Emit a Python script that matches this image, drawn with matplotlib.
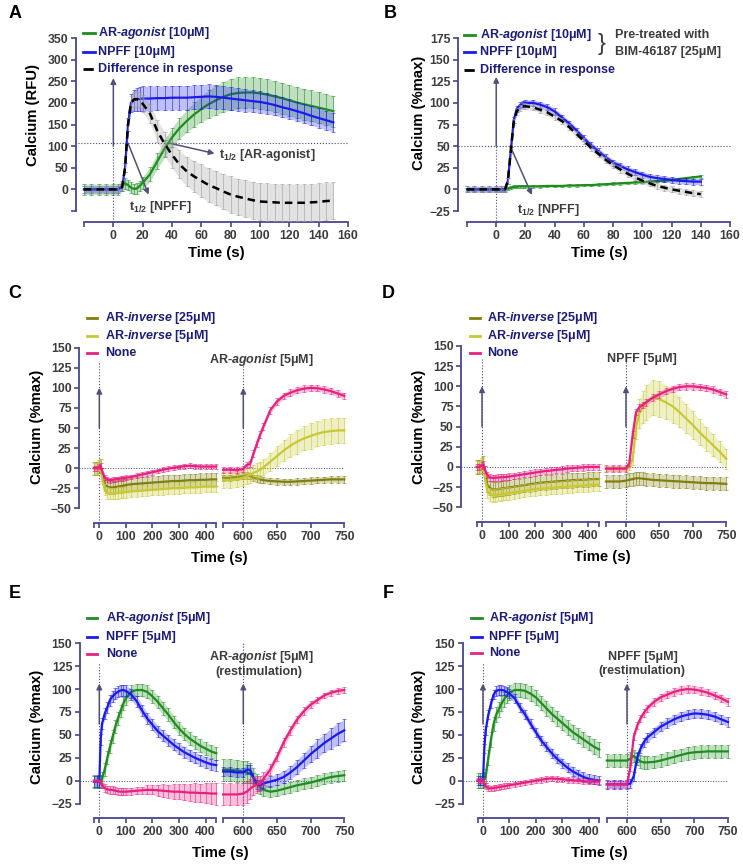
import numpy as np
import matplotlib.pyplot as plt
from matplotlib.lines import Line2D

plt.rcParams['font.family'] = ['Liberation Sans', 'DejaVu Sans']
plt.rcParams['font.weight'] = 'bold'
plt.rcParams['mathtext.fontset'] = 'custom'
plt.rcParams['mathtext.rm'] = 'Liberation Sans:bold'
plt.rcParams['mathtext.it'] = 'Liberation Sans:italic:bold'
plt.rcParams['mathtext.bf'] = 'Liberation Sans:bold'

W, H = 743, 865
AXC = '#45458f'    # axis colour
TXT = '#3c3c3c'    # tick labels / notes
LEG = '#1c1c7a'    # legend text
ARR = '#50507a'    # arrows
GREEN = '#1f8c1f'
BLUE = '#1a1aee'
PINK = '#e8207f'
OLIVE = '#7f7f10'
YELLOW = '#c8c832'

# ---------------- data: panels A and B (time in s) ----------------
t_ab = [-20, -15, -10, -5, 0, 3, 6, 8, 10, 12, 14, 16, 18, 20,
        25, 30, 35, 40, 45, 50, 55, 60, 65, 70, 75, 80, 85, 90, 95, 100,
        105, 110, 115, 120, 125, 130, 135, 140, 145, 150]

a_green = [0, 0, 0, 0, 0, 0, 8, 14, 10, 4, 1, 2, 8, 15,
           35, 65, 95, 120, 141, 158, 173, 186, 197, 206, 214, 220, 223, 224, 224, 222,
           219, 215, 211, 206, 201, 197, 193, 189, 185, 181]
a_green_err = [12, 12, 12, 12, 12, 12, 12, 12, 12, 12, 12, 12, 12, 14,
               16, 18, 20, 22, 24, 26, 28, 30, 32, 34, 35, 36, 36, 36, 36, 36,
               36, 36, 36, 36, 36, 36, 36, 36, 36, 36]
a_blue = [0, 0, 0, 0, 0, 0, 5, 50, 150, 200, 206, 208, 209, 210,
          210, 211, 211, 212, 212, 212, 213, 214, 215, 214, 212, 210, 208, 206, 204, 202,
          199, 195, 190, 186, 181, 176, 170, 165, 160, 155]
a_blue_err = [8, 8, 8, 8, 8, 8, 8, 10, 15, 20, 24, 26, 27, 28,
              28, 28, 28, 28, 28, 28, 28, 28, 28, 28, 27, 27, 26, 26, 25, 25,
              24, 24, 23, 23, 22, 22, 22, 22, 22, 22]
a_diff = [0, 0, 0, 0, 0, 0, 5, 50, 150, 200, 208, 209, 206, 198,
          175, 135, 105, 80, 58, 42, 30, 20, 10, 3, -5, -12, -17, -21, -25, -28,
          -29, -30, -31, -31, -31, -31, -30, -29, -27, -26]
a_diff_err = [8, 8, 8, 8, 8, 8, 8, 10, 14, 16, 17, 18, 19, 20,
              22, 25, 28, 30, 32, 34, 36, 38, 39, 40, 41, 42, 42, 43, 43, 43,
              43, 43, 43, 43, 43, 43, 43, 43, 43, 43]

t_b = t_ab[:-2]
b_green = [0, 0, 0, 0, 0, 0, 0, 1, 2, 3, 3, 3.5, 3.5, 3.5,
           3.5, 3.5, 4, 4, 4, 4.5, 4.5, 5, 5, 5.5, 6, 6.5, 7, 7.5, 8, 8.5,
           9, 9.5, 10, 11, 12, 13, 14, 15]
b_green_err = 1.5
b_blue = [0, 0, 0, 0, 0, 0, 0, 10, 45, 80, 93, 97, 99, 100,
          100, 98, 95, 90, 83, 76, 68, 59, 51, 44, 37, 31, 27, 23, 20, 17,
          14.5, 13, 12, 11, 10, 9.5, 9, 9]
b_blue_err = 3.5
b_diff = [0, 0, 0, 0, 0, 0, 0, 10, 45, 78, 90, 94, 96, 96,
          95, 92, 89, 84, 79, 72, 64, 56, 48, 41, 34, 28, 23, 18, 14, 10,
          7, 4, 2, 0, -1.5, -3, -4.5, -5.5]
b_diff_err = 3.5

# ---------------- data: panels C-F (two time segments) ----------------
t_left = [-20, -10, 0, 5, 10, 20, 30, 40, 50, 60, 70, 80, 90, 100,
          120, 140, 160, 180, 200, 220, 240, 260, 280, 300, 320, 340, 360, 380, 400, 420, 440]
t_right = [570, 580, 590, 600, 605, 610, 615, 620, 625, 630,
           640, 650, 660, 670, 680, 690, 700, 710, 720, 730, 740, 750]

# C: AR-agonist stimulation after inverse agonist
c_inv25_l = [0, 0, 2, 4, -8, -20, -23, -24, -24, -23.5, -23, -22.5, -22, -21,
             -20, -19.5, -19, -18.5, -18, -17.5, -17, -16.5, -16, -16, -15.5, -15, -15, -14.5, -14.5, -14, -14]
c_inv25_r = [-12, -12, -11, -10, -9, -10, -12, -13, -14, -15,
             -16, -16.5, -17, -17, -16.5, -16, -15.5, -15, -14.5, -14, -14, -14]
c_inv5_l = [0, 0, 3, 4, -12, -27, -31, -32, -32, -31.5, -31, -30.5, -30, -30,
            -29, -28.5, -28, -27.5, -27, -26.5, -26, -25.5, -25, -25, -24.5, -24, -24, -23.5, -23, -23, -23]
c_inv5_r = [-15, -15, -14, -12, -10, -8, -6, -4, -2, 1,
            8, 15, 22, 28, 33, 37, 40, 43, 45, 46, 47, 47]
c_none_l = [0, 0, 2, 3, -3, -12, -14, -15, -14.5, -14, -13.5, -13, -12.5, -12,
            -11, -9.5, -8, -6.5, -5, -3.5, -2, -0.5, 0.5, 1.5, 2.5, 3, 2.5, 2, 2, 2, 2]
c_none_r = [-2, -2, -2.5, -1, 4, 5, 18, 30, 42, 52,
            72, 83, 90, 94, 97, 99, 100, 99.5, 98, 96, 93, 90]
c_inv25_err = (8, 4)
c_inv5_err_l = 7
c_inv5_err_r = [10, 10, 10, 10, 10, 10, 10, 10, 10, 10, 11, 12, 13, 14, 15, 15, 16, 16, 16, 16, 16, 16]
c_none_err = (3, 4)

# D: NPFF stimulation after inverse agonist
d_inv25_l = [0, 0, 2, 4, -8, -22, -26, -28, -28, -27.5, -27, -26.5, -26, -25.5,
             -24.5, -23.5, -22.5, -21.5, -20.5, -19.5, -19, -18.5, -18, -17.5, -17, -16.5, -16, -16, -15.5, -15, -15]
d_inv25_r = [-18, -18, -18, -17, -16, -15, -14, -14, -14.5, -15,
             -16, -16.5, -17, -17.5, -18, -18.5, -19, -19.5, -20, -20, -20.5, -21]
d_inv5_l = [0, 0, 3, 4, -12, -30, -34, -35, -35, -34.5, -34, -33.5, -33, -32.5,
            -31.5, -30.5, -29.5, -28.5, -27.5, -27, -26.5, -26, -25.5, -25, -24.5, -24, -23.5, -23, -22.5, -22, -22]
d_inv5_r = [-2, -2, -2, -2, -1, 10, 50, 66, 74, 80,
            86, 84, 80, 75, 68, 60, 52, 43, 35, 27, 19, 10]
d_none_l = [0, 0, 2, 3, -3, -10, -13, -13.5, -13.5, -13, -13, -12.5, -12.5, -12,
            -11, -10, -9, -8, -7, -6, -5, -4.5, -3.5, -3, -2, -1.5, -1, -0.5, 0, 0, 0]
d_none_r = [-2, -2, -2, -2, 5, 40, 68, 74, 77, 80,
            86, 90, 94, 97, 99, 100, 100, 99, 98, 96, 93, 90]
d_inv25_err = (9, 8)
d_inv5_err_l = 8
d_inv5_err_r = [3, 3, 3, 3, 3, 8, 15, 18, 20, 22, 22, 22, 21, 20, 19, 18, 17, 16, 15, 14, 13, 12]
d_none_err = (4, 4)

# E: restimulation with AR-agonist
e_ag_l = [-1, -1, -1, -1, 2, 12, 25, 37, 48, 59, 68, 76, 84, 90,
          97, 99, 99, 97, 92, 86, 79, 72, 64, 57, 51, 46, 42, 38, 35, 32, 30]
e_ag_r = [12, 12, 11, 10, 9, 8, 4, -2, -7, -10,
          -12, -11, -9, -7, -5, -3.5, -2, 0, 2, 4, 5, 6]
e_npff_l = [-1, -1, -1, 45, 62, 73, 80, 88, 92, 95, 97, 98.5, 99, 98,
            94, 87, 77, 68, 61, 54, 49, 44, 39, 35, 31, 28, 25, 22.5, 20, 18, 17]
e_npff_r = [10, 10, 9, 9, 12, 12, 3, -4, -5, -3,
            -1, 1, 4, 9, 15, 22, 29, 35, 41, 46, 51, 55]
e_none_l = [0, 0, 0, -2, -5, -8, -9.5, -10, -10, -11, -11.5, -12, -12, -12,
            -11.5, -11, -10.5, -10, -10, -10.5, -11, -11.5, -12, -12, -12.5, -13, -13, -13.5, -13.5, -14, -14]
e_none_r = [-15, -15, -15, -14, -12, -9, -6, -4, -3, 2,
            12, 26, 42, 55, 67, 76, 83, 88, 93, 96, 98, 99]
e_ag_err_l = 7
e_ag_err_r = [12, 12, 12, 12, 12, 11, 10, 9, 8, 7, 6, 6, 6, 6, 6, 6, 6, 6, 6, 6, 6, 6]
e_npff_err_l = 6
e_npff_err_r = [5, 5, 5, 5, 5, 5, 5, 5, 5, 5, 6, 6, 7, 7, 8, 8, 9, 10, 10, 11, 12, 12]
e_none_err_l = [1, 1, 1, 2, 3, 4, 4, 4, 4, 4, 4, 4, 4, 4,
                4, 4, 4, 5, 5, 6, 7, 7, 8, 8, 9, 9, 10, 10, 11, 11, 12]
e_none_err_r = [12, 12, 12, 12, 12, 11, 10, 9, 8, 7, 6, 5, 5, 5, 4, 4, 4, 3, 3, 3, 3, 3]

# F: restimulation with NPFF
f_ag_l = [0, 0, 0, 1, 5, 25, 45, 62, 72, 78, 84, 89, 93, 96,
          99, 99, 98, 95, 91, 85, 79, 73, 68, 63, 58, 53, 49, 45, 41, 37, 34]
f_ag_r = [22, 22, 22, 22, 24, 27, 24, 21, 20, 20,
          20.5, 22, 24, 26, 28, 30, 31, 31.5, 32, 32, 32, 32]
f_npff_l = [0, 0, 0, 35, 55, 72, 84, 94, 98, 99, 99, 98.5, 97, 95,
            90, 80, 72, 62, 53, 44, 37, 30, 24, 19, 14, 10, 7, 4, 2, 1, 0]
f_npff_r = [-4, -4, -4, -4, -3, 5, 25, 35, 42, 47,
            53, 59, 63, 67, 70, 72, 73.5, 73, 72, 70, 67, 64]
f_none_l = [0, 0, 0, -3, -6, -8, -8.5, -8, -7.5, -7, -6.5, -6, -5.5, -5,
            -4, -3, -2, -1, 0, 1, 2, 2.5, 2, 1.5, 1, 0.5, 0, -0.5, -1, -1, -1]
f_none_r = [-4, -4, -4, -4, 15, 48, 60, 68, 74, 79,
            86, 91, 94, 97, 99, 100, 99.5, 98, 96, 93, 90, 86]
f_ag_err = (8, 7)
f_npff_err = (5, 5)
f_none_err = (3, 4)

fig = plt.figure(figsize=(W / 100, H / 100), dpi=100)


def add_ax(x0, x1, y0, y1):
    return fig.add_axes([x0 / W, 1 - y1 / H, (x1 - x0) / W, (y1 - y0) / H])


def frame(ax, left_out=None, bottom_out=11):
    ax.patch.set_visible(False)
    ax.spines['top'].set_visible(False)
    ax.spines['right'].set_visible(False)
    ax.spines['bottom'].set_position(('outward', bottom_out * 0.72))
    ax.spines['bottom'].set_color(AXC)
    ax.spines['bottom'].set_linewidth(1.3)
    if left_out is None:
        ax.spines['left'].set_visible(False)
        ax.tick_params(axis='y', left=False, labelleft=False)
    else:
        ax.spines['left'].set_position(('outward', left_out * 0.72))
        ax.spines['left'].set_color(AXC)
        ax.spines['left'].set_linewidth(1.3)
    ax.tick_params(direction='out', length=3.5, width=1.2, color=AXC,
                   labelcolor=TXT, labelsize=8.8, pad=2)


def ftext(x, y, s, **kw):
    kw.setdefault('color', TXT)
    kw.setdefault('fontsize', 9)
    return fig.text(x / W, 1 - y / H, s, **kw)


def series(ax, t, v, e, color, ls='-', z=3):
    lo = np.array(v) - np.array(e)
    hi = np.array(v) + np.array(e)
    band = '#9a9a9a' if color == 'black' else color
    ax.fill_between(t, lo, hi, color=band, alpha=0.28, lw=0, zorder=z - 0.2, clip_on=False)
    ax.errorbar(t, v, yerr=e, fmt='none', ecolor=band, alpha=0.65,
                elinewidth=0.6, capsize=1.6, capthick=0.6, zorder=z, clip_on=False)
    line = ax.plot(t, v, color=color, lw=1.6, ls=ls, zorder=z + 0.5, clip_on=False)[0]
    if ls == '--':
        line.set_dashes((3, 2))
        line.set_linewidth(1.8)


def stim(ax, x, ybot, ytop, a0, a1):
    ax.plot([x, x], [ybot, ytop], ls=':', color=AXC, lw=0.8, clip_on=False, zorder=1)
    ax.annotate('', xy=(x, a1), xytext=(x, a0),
                arrowprops=dict(arrowstyle='-|>', color=ARR, lw=1.1,
                                mutation_scale=8, shrinkA=0, shrinkB=0))


def pointer(ax, start, tip):
    ax.annotate('', xy=tip, xytext=start,
                arrowprops=dict(arrowstyle='-|>', color=ARR, lw=1.1,
                                mutation_scale=8, shrinkA=0, shrinkB=0))


def legend(ys, hx0, hx1, tx, labels, colors, styles=None):
    styles = styles or ['-'] * len(labels)
    for y, lab, c, ls in zip(ys, labels, colors, styles):
        fig.add_artist(Line2D([hx0 / W, hx1 / W], [1 - y / H, 1 - y / H],
                              color=c, lw=2, ls=ls))
        ftext(tx, y, lab, color=LEG, va='center', ha='left')


def ylab(x, y, s):
    ftext(x, y, s, color='black', fontsize=10.7, rotation=90, ha='center', va='center')


def xlab(x, y, s):
    ftext(x, y, s, color='black', fontsize=10.7, ha='center', va='center')


def letter(x, y, s):
    ftext(x, y, s, color='black', fontsize=13, ha='center', va='center')


# ================= Panel A =================
ax = add_ax(84, 348, 38, 211)
frame(ax, left_out=8, bottom_out=11)
ax.set_xlim(-20, 160)
ax.set_ylim(-50, 350)
ax.set_xticks([-20] + list(range(0, 161, 20)))
ax.set_xticklabels([''] + [str(v) for v in range(0, 161, 20)])
ax.set_yticks(range(-50, 351, 50))
ax.set_yticklabels([''] + [str(v) for v in range(0, 351, 50)])
ax.plot([-26, 160], [107, 107], ls=':', color=AXC, lw=0.8, clip_on=False, zorder=1)
stim(ax, 0, -75, 100, 100, 257)
series(ax, t_ab, a_green, a_green_err, GREEN)
series(ax, t_ab, a_blue, a_blue_err, BLUE, z=4)
series(ax, t_ab, a_diff, a_diff_err, 'black', ls='--', z=5)
pointer(ax, (10, 107), (24, -12))
pointer(ax, (38, 107), (69, 83))
ax.text(11, -41, r'$\mathrm{t}_{1/2}$ [NPFF]', color=TXT, fontsize=9, va='center')
ax.text(72, 79, r'$\mathrm{t}_{1/2}$ [AR-agonist]', color=TXT, fontsize=9, va='center')
legend([33, 52, 69], 83, 95, 98,
       ['AR-$\\mathit{agonist}$ [10μM]', 'NPFF [10μM]', 'Difference in response'],
       [GREEN, BLUE, 'black'], ['-', '-', '--'])
ylab(33, 115, 'Calcium (RFU)')
xlab(216, 253, 'Time (s)')
letter(15, 14, 'A')

# ================= Panel B =================
ax = add_ax(467, 730, 38, 211)
frame(ax, left_out=9, bottom_out=11)
ax.set_xlim(-20, 160)
ax.set_ylim(-25, 175)
ax.set_xticks([-20] + list(range(0, 161, 20)))
ax.set_xticklabels([''] + [str(v) for v in range(0, 161, 20)])
ax.set_yticks(range(-25, 176, 25))
ax.plot([-26, 160], [50, 50], ls=':', color=AXC, lw=0.8, clip_on=False, zorder=1)
stim(ax, 0, -37, 50, 50, 130)
series(ax, t_b, b_green, b_green_err, GREEN)
series(ax, t_b, b_blue, b_blue_err, BLUE, z=4)
series(ax, t_b, b_diff, b_diff_err, 'black', ls='--', z=5)
pointer(ax, (9.6, 50), (24.4, -6.5))
ax.text(14, -24, r'$\mathrm{t}_{1/2}$ [NPFF]', color=TXT, fontsize=9, va='center')
legend([35, 52, 70], 464, 475, 480,
       ['AR-$\\mathit{agonist}$ [10μM]', 'NPFF [10μM]', 'Difference in response'],
       [GREEN, BLUE, 'black'], ['-', '-', '--'])
ftext(602, 44, '}', fontsize=17, va='center', ha='center', fontweight='normal')
ftext(615, 35, 'Pre-treated with', va='center')
ftext(615, 52, 'BIM-46187 [25μM]', va='center')
ylab(419, 113, 'Calcium (%max)')
xlab(599, 253, 'Time (s)')
letter(390, 14, 'B')


# ================= broken-axis panels =================
def broken(lx0, lx1, rx0, rx1, y0, y1, spine_x, xaxis_y, ylim, yticks):
    axl = add_ax(lx0, lx1, y0, y1)
    axr = add_ax(rx0, rx1, y0, y1)
    out = xaxis_y - y1
    frame(axl, left_out=lx0 - spine_x, bottom_out=out)
    frame(axr, left_out=None, bottom_out=out)
    axl.set_xlim(-20, 440)
    axr.set_xlim(570, 750)
    for a in (axl, axr):
        a.set_ylim(*ylim)
    axl.set_yticks(yticks)
    axl.set_xticks([-20, 0, 100, 200, 300, 400, 440])
    axl.set_xticklabels(['', '0', '100', '200', '300', '400', ''])
    axr.set_xticks([570, 600, 650, 700, 750])
    axr.set_xticklabels(['', '600', '650', '700', '750'])
    axl.plot([-20 - (lx0 - spine_x) / (lx1 - lx0) * 460, 440], [0, 0], ls=':',
             color=AXC, lw=0.7, clip_on=False, zorder=1)
    axr.plot([570, 750], [0, 0], ls=':', color=AXC, lw=0.7, clip_on=False, zorder=1)
    return axl, axr


def pair(axl, axr, vl, vr, el, er, color, z=3):
    series(axl, t_left, vl, el, color, z=z)
    series(axr, t_right, vr, er, color, z=z)


# ---- C ----
axl, axr = broken(94, 216.3, 223.1, 344.3, 347.7, 508.3, 79.3, 523.3, (-50, 150), range(-50, 151, 25))
stim(axl, 0, -68, 132, 50, 100)
stim(axr, 600, -68, 137, 50, 100)
pair(axl, axr, c_inv25_l, c_inv25_r, c_inv25_err[0], c_inv25_err[1], OLIVE, z=3)
pair(axl, axr, c_inv5_l, c_inv5_r, c_inv5_err_l, c_inv5_err_r, YELLOW, z=4)
pair(axl, axr, c_none_l, c_none_r, c_none_err[0], c_none_err[1], PINK, z=5)
legend([318, 336, 353], 87, 97, 105,
       ['AR-$\\mathit{inverse}$ [25μM]', 'AR-$\\mathit{inverse}$ [5μM]', 'None'],
       [OLIVE, YELLOW, PINK])
ftext(261, 360, 'AR-$\\mathit{agonist}$ [5μM]', ha='center', va='center')
ylab(37, 427, 'Calcium (%max)')
xlab(219, 558, 'Time (s)')
letter(15, 294, 'C')

# ---- D ----
axl, axr = broken(476.7, 598.6, 605.9, 726.3, 346, 507.3, 461.3, 522.3, (-50, 150), range(-50, 151, 25))
stim(axl, 0, -68, 135, 50, 100)
stim(axr, 600, -68, 135, 50, 100)
pair(axl, axr, d_inv25_l, d_inv25_r, d_inv25_err[0], d_inv25_err[1], OLIVE, z=3)
pair(axl, axr, d_inv5_l, d_inv5_r, d_inv5_err_l, d_inv5_err_r, YELLOW, z=4)
pair(axl, axr, d_none_l, d_none_r, d_none_err[0], d_none_err[1], PINK, z=5)
legend([318, 336, 353], 470, 480, 487,
       ['AR-$\\mathit{inverse}$ [25μM]', 'AR-$\\mathit{inverse}$ [5μM]', 'None'],
       [OLIVE, YELLOW, PINK])
ftext(642, 359, 'NPFF [5μM]', ha='center', va='center')
ylab(419, 427, 'Calcium (%max)')
xlab(602, 557, 'Time (s)')
letter(388, 294, 'D')

# ---- E ----
axl, axr = broken(94, 216.3, 223.1, 344.3, 643.3, 803.6, 80, 818.3, (-25, 150), range(-25, 151, 25))
stim(axl, 0, -41, 128, 62, 106)
stim(axr, 600, -41, 150, 62, 106)
pair(axl, axr, e_ag_l, e_ag_r, e_ag_err_l, e_ag_err_r, GREEN, z=3)
pair(axl, axr, e_npff_l, e_npff_r, e_npff_err_l, e_npff_err_r, BLUE, z=4)
pair(axl, axr, e_none_l, e_none_r, e_none_err_l, e_none_err_r, PINK, z=5)
legend([618, 637, 654], 87, 97, 106,
       ['AR-$\\mathit{agonist}$ [5μM]', 'NPFF [5μM]', 'None'],
       [GREEN, BLUE, PINK])
ftext(261, 657, 'AR-$\\mathit{agonist}$ [5μM]', ha='center', va='center')
ftext(259, 672, '(restimulation)', ha='center', va='center')
ylab(37, 727, 'Calcium (%max)')
xlab(220, 853, 'Time (s)')
letter(15, 594, 'E')

# ---- F ----
axl, axr = broken(477.7, 599.3, 606.8, 728, 643.3, 803.6, 462.7, 818.3, (-25, 150), range(-25, 151, 25))
stim(axl, 0, -41, 128, 62, 106)
stim(axr, 600, -41, 117, 62, 106)
pair(axl, axr, f_ag_l, f_ag_r, f_ag_err[0], f_ag_err[1], GREEN, z=3)
pair(axl, axr, f_npff_l, f_npff_r, f_npff_err[0], f_npff_err[1], BLUE, z=4)
pair(axl, axr, f_none_l, f_none_r, f_none_err[0], f_none_err[1], PINK, z=5)
legend([618, 637, 653], 471, 482, 489,
       ['AR-$\\mathit{agonist}$ [5μM]', 'NPFF [5μM]', 'None'],
       [GREEN, BLUE, PINK])
ftext(643, 657, 'NPFF [5μM]', ha='center', va='center')
ftext(642, 671, '(restimulation)', ha='center', va='center')
ylab(419, 727, 'Calcium (%max)')
xlab(599, 853, 'Time (s)')
letter(388, 594, 'F')

fig.savefig('out.png', dpi=100)
